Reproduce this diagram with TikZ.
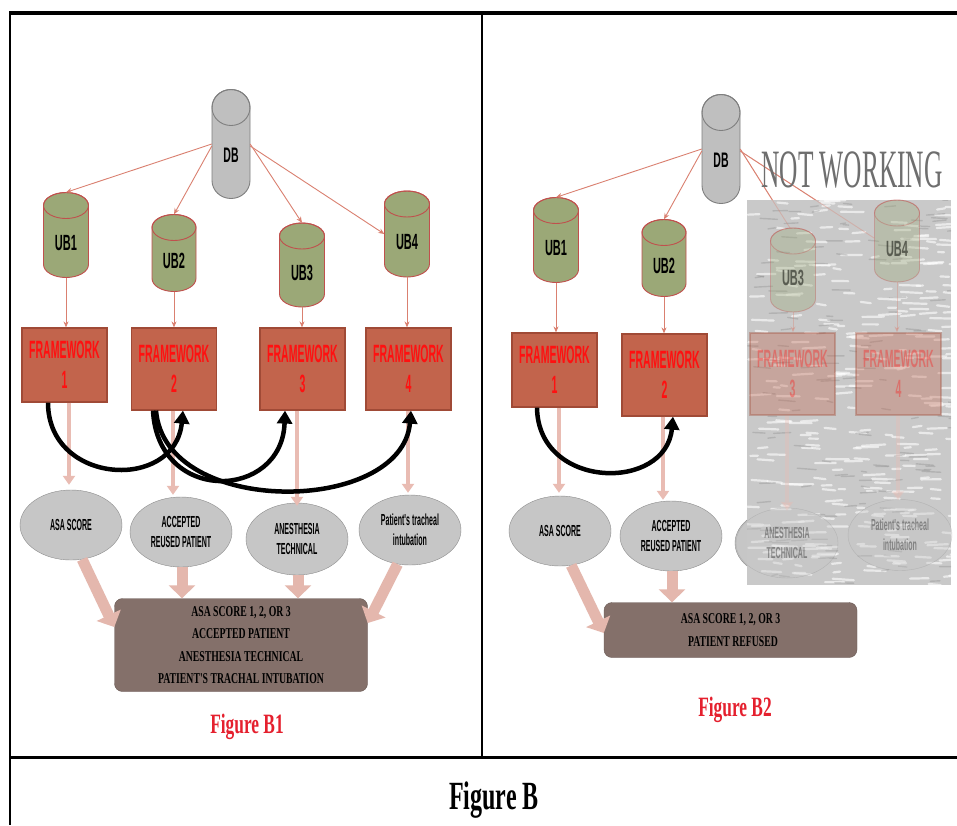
\documentclass[tikz,border=0pt]{standalone}
\usepackage{fontspec}
\usetikzlibrary{shapes.geometric,arrows.meta}
\newfontfamily\ubfont[FakeStretch=0.5]{Liberation Sans}
\newfontfamily\fwfont[FakeStretch=0.42]{Liberation Sans}
\newfontfamily\elfont[FakeStretch=0.44]{Liberation Sans}
\newfontfamily\bxfont[FakeStretch=0.65]{Liberation Serif}
\newfontfamily\fgfont[FakeStretch=0.62]{Liberation Serif}
\newfontfamily\bigfont[FakeStretch=0.6]{Liberation Serif}
\newfontfamily\nwserif[FakeStretch=0.47]{Liberation Serif}
\definecolor{dbFill}{HTML}{BFBFBF}
\definecolor{dbDraw}{HTML}{7F7F7F}
\definecolor{ubFill}{HTML}{9BA877}
\definecolor{ubDraw}{HTML}{C0504D}
\definecolor{fwFill}{HTML}{C2644C}
\definecolor{fwDraw}{HTML}{A04A36}
\definecolor{fwText}{HTML}{FF1010}
\definecolor{ellFill}{HTML}{C6C6C6}
\definecolor{ellDraw}{HTML}{8C8C8C}
\definecolor{boxFill}{HTML}{84706A}
\definecolor{lineC}{HTML}{DA8070}
\definecolor{pinkC}{HTML}{E9BCB3}
\definecolor{fatC}{HTML}{E4B7AD}
\definecolor{figRed}{HTML}{E5202E}
\definecolor{notC}{HTML}{6E6E6E}
\definecolor{texC}{HTML}{C9C9C9}
% cylinder: #1 name, #2 cx, #3 cy, #4 width, #5 height, #6 cap y-radius, #7 node style, #8 label
\newcommand\drawcyl[8]{%
  \pgfmathsetmacro\cylhw{#4/2}%
  \pgfmathsetmacro\cyltop{#3-#5/2+#6}%
  \pgfmathsetmacro\cylbot{#3+#5/2-#6}%
  \node[#7, minimum width=#4pt, minimum height=#5pt] (#1) at (#2,#3) {#8};
  \path[#7 body] (#2-\cylhw,\cyltop) -- (#2-\cylhw,\cylbot)
     arc[start angle=180, end angle=360, x radius=\cylhw pt, y radius=#6pt]
     -- (#2+\cylhw,\cyltop)
     arc[start angle=0, end angle=180, x radius=\cylhw pt, y radius=#6pt] -- cycle;
  \draw[#7 body, fill=none] (#2,\cyltop) ellipse[x radius=\cylhw pt, y radius=#6pt];
  \node[#7, minimum width=#4pt, minimum height=#5pt] at (#1.center) {#8};
}
\begin{document}
\begin{tikzpicture}[x=1pt,y=-1pt,
  dbnode/.style={rectangle, inner sep=0pt, text height=37pt, text depth=0pt,
    font=\ubfont\bfseries\fontsize{21}{21}\selectfont},
  dbnode body/.style={draw=dbDraw, fill=dbFill, line width=0.9pt},
  ubnode/.style={rectangle, inner sep=0pt, text height=30pt, text depth=0pt,
    font=\ubfont\bfseries\fontsize{22}{22}\selectfont},
  ubnode body/.style={draw=ubDraw, fill=ubFill, line width=0.9pt},
  fwnode/.style={rectangle, draw=fwDraw, line width=1.2pt, fill=fwFill, minimum width=85pt,
    inner sep=0pt, text=fwText, align=center, font=\fwfont\bfseries\fontsize{25}{30}\selectfont},
  ellnode/.style={ellipse, draw=ellDraw, fill=ellFill, inner sep=0pt, minimum width=102pt,
    minimum height=70pt, align=center, font=\elfont\bfseries\fontsize{16}{20}\selectfont},
  resnode/.style={rectangle, rounded corners=8pt, fill=boxFill, draw=boxFill!80!black,
    minimum width=253pt, align=center, inner sep=0pt,
    font=\bxfont\bfseries\fontsize{15}{22.5}\selectfont},
  thinarrow/.style={draw=lineC, line width=0.9pt, -{Stealth[length=6pt,width=5pt]}},
  pinkarrow/.style={draw=pinkC, line width=4pt, -{Triangle[length=9pt,width=12pt]}},
  fatarrow/.style={draw=fatC, line width=11pt, -{Triangle[length=13pt,width=26pt]}},
  curvearrow/.style={draw=black, line width=4.5pt, -{Triangle[length=13pt,width=15pt]}},
  figlabel/.style={text=figRed, font=\fgfont\bfseries\fontsize{28}{28}\selectfont},
  faded/.style={opacity=0.35}
]
\useasboundingbox (0,0) rectangle (957,825);
\fill[white] (0,0) rectangle (957,825);

% frame
\draw[line width=4pt] (9,13) -- (957,13);
\draw[line width=2pt] (10,12) -- (10,825);
\draw[line width=1.5pt] (482,13) -- (482,757);
\draw[line width=3pt] (9,757) -- (957,757);

% ================= LEFT PANEL =================
\drawcyl{dbL}{231}{144}{38}{109}{18}{dbnode}{DB}
\drawcyl{ub1L}{66}{235}{45}{85}{13}{ubnode}{UB1}
\drawcyl{ub2L}{174}{253}{44}{77}{13}{ubnode}{UB2}
\drawcyl{ub3L}{302}{265}{45}{84}{13}{ubnode}{UB3}
\drawcyl{ub4L}{407}{234}{45}{86}{13}{ubnode}{UB4}

\draw[thinarrow] (dbL.west) -- (ub1L.north);
\draw[thinarrow] (dbL.186) -- (ub2L.north);
\draw[thinarrow] (dbL.east) -- (ub3L.north);
\draw[thinarrow] (dbL.354) -- (ub4L.west);

\node[fwnode, minimum height=74pt] (fw1L) at (64.5,365) {FRAMEWORK\\1};
\node[fwnode, minimum height=82pt] (fw2L) at (174,369) {FRAMEWORK\\2};
\node[fwnode, minimum height=82pt] (fw3L) at (302.5,369) {FRAMEWORK\\3};
\node[fwnode, minimum height=82pt] (fw4L) at (408.5,369) {FRAMEWORK\\4};

\draw[thinarrow] (ub1L.south) -- (ub1L.south |- fw1L.north);
\draw[thinarrow] (ub2L.south) -- (ub2L.south |- fw2L.north);
\draw[thinarrow] (ub3L.south) -- (ub3L.south |- fw3L.north);
\draw[thinarrow] (ub4L.south) -- (ub4L.south |- fw4L.north);

\node[ellnode] (e1L) at (71,525) {ASA SCORE};
\node[ellnode] (e2L) at (181,532) {ACCEPTED\\REUSED PATIENT};
\node[ellnode, minimum height=72pt] (e3L) at (297,539) {ANESTHESIA\\TECHNICAL};
\node[ellnode] (e4L) at (410,530) {Patient's tracheal\\intubation};

\draw[pinkarrow] ([xshift=4.5pt]fw1L.south) -- ([xshift=4.5pt,yshift=5pt]fw1L.south |- e1L.north);
\draw[pinkarrow] ([xshift=-1pt]fw2L.south) -- ([xshift=-1pt,yshift=2pt]fw2L.south |- e2L.north);
\draw[pinkarrow] ([xshift=-5.5pt]fw3L.south) -- ([xshift=-5.5pt,yshift=-3pt]fw3L.south |- e3L.north);
\draw[pinkarrow] ([xshift=-0.5pt]fw4L.south) -- ([xshift=-0.5pt,yshift=2pt]fw4L.south |- e4L.north);

% curved black arrows
\draw[curvearrow] ([xshift=-16.5pt]fw1L.south) .. controls (48,485) and (175,492) .. ([xshift=9pt]fw2L.south);
\draw[curvearrow] ([xshift=-21pt]fw2L.south) .. controls (158,505) and (282,500) .. ([xshift=-17.5pt]fw3L.south);
\draw[curvearrow] ([xshift=-18pt]fw2L.south) .. controls (165,518) and (402,515) .. ([xshift=2.5pt]fw4L.south);

\node[resnode, minimum height=93pt] (boxL) at (241,645)
  {ASA SCORE 1, 2, OR 3\\ACCEPTED PATIENT\\ANESTHESIA TECHNICAL\\PATIENT'S TRACHAL INTUBATION};

\draw[fatarrow] (e1L.-72) -- ([yshift=18pt]boxL.west);
\draw[fatarrow] ([xshift=1pt]e2L.south) -- ([xshift=-59pt]boxL.north);
\draw[fatarrow] ([xshift=1pt]e3L.south) -- ([xshift=57pt]boxL.north);
\draw[fatarrow] (e4L.-110) -- ([yshift=22pt]boxL.east);

\node[figlabel] (figB1) at (247,727) {Figure B1};

% ================= RIGHT PANEL =================
\drawcyl{dbR}{721}{149}{38}{109}{18}{dbnode}{DB}
\drawcyl{ub1R}{556}{240}{45}{85}{13}{ubnode}{UB1}
\drawcyl{ub2R}{664}{258}{44}{77}{13}{ubnode}{UB2}

\draw[thinarrow] (dbR.west) -- (ub1R.north);
\draw[thinarrow] (dbR.186) -- (ub2R.north);

\node[fwnode, minimum height=74pt] (fw1R) at (554.5,370) {FRAMEWORK\\1};
\node[fwnode, minimum height=82pt] (fw2R) at (664.5,375) {FRAMEWORK\\2};

\draw[thinarrow] (ub1R.south) -- (ub1R.south |- fw1R.north);
\draw[thinarrow] (ub2R.south) -- (ub2R.south |- fw2R.north);

\node[ellnode] (e1R) at (560,531) {ASA SCORE};
\node[ellnode] (e2R) at (671,536) {ACCEPTED\\REUSED PATIENT};

\draw[pinkarrow] ([xshift=4.5pt]fw1R.south) -- ([xshift=4.5pt,yshift=3pt]fw1R.south |- e1R.north);
\draw[pinkarrow] ([xshift=-1.5pt]fw2R.south) -- ([xshift=-1.5pt,yshift=1pt]fw2R.south |- e2R.north);

\draw[curvearrow] ([xshift=-17.5pt]fw1R.south) .. controls (538,490) and (666,492) .. ([xshift=8.5pt]fw2R.south);

% hidden (not working) part: ellipse piece visible at the left edge of the patch
\node[ellnode, minimum width=104pt, minimum height=72pt] (e3Rb) at (787,543) {};

% links from DB to the faded bases
\coordinate (ub3Rt) at (790,228);
\coordinate (ub4Rl) at (874,238);
\draw[draw=lineC, line width=0.9pt] (dbR.east) -- (ub3Rt);
\draw[draw=lineC, line width=0.9pt] (dbR.354) -- (ub4Rl);

% textured patch
\fill[texC] (747,200) rectangle (951,585);
\begin{scope}
\clip (747,200) rectangle (951,585);
\pgfmathsetseed{4711}
\foreach \i in {1,...,300}{
  \pgfmathsetmacro{\px}{747+rnd*204}
  \pgfmathsetmacro{\py}{200+rnd*385}
  \pgfmathsetmacro{\pl}{6+rnd*18}
  \draw[white, opacity=0.6, line width=2.2pt, line cap=round] (\px,\py) -- ++(\pl,rnd*3-1.5);
}
\foreach \i in {1,...,140}{
  \pgfmathsetmacro{\px}{747+rnd*204}
  \pgfmathsetmacro{\py}{200+rnd*385}
  \pgfmathsetmacro{\pl}{5+rnd*14}
  \draw[gray, opacity=0.3, line width=1.4pt, line cap=round] (\px,\py) -- ++(\pl,rnd*3-1.5);
}
\end{scope}

% faded content of the patch
\begin{scope}[faded]
\draw[draw=lineC, line width=0.9pt] (dbR.east) -- (ub3Rt);
\draw[draw=lineC, line width=0.9pt] (dbR.354) -- (ub4Rl);
\drawcyl{ub3R}{793}{270}{45}{84}{13}{ubnode}{UB3}
\drawcyl{ub4R}{897}{241}{45}{82}{13}{ubnode}{UB4}
\node[fwnode, minimum height=82pt] (fw3R) at (792.5,374) {FRAMEWORK\\3};
\node[fwnode, minimum height=82pt] (fw4R) at (898.5,374) {FRAMEWORK\\4};
\draw[thinarrow] (ub3R.south) -- (ub3R.south |- fw3R.north);
\draw[thinarrow] (ub4R.south) -- (ub4R.south |- fw4R.north);
\node[ellnode, minimum width=102pt, minimum height=70pt] (e3R) at (787,543) {ANESTHESIA\\TECHNICAL};
\node[ellnode, minimum width=104pt, minimum height=71pt] (e4R) at (900,535) {Patient's tracheal\\intubation};
\draw[pinkarrow] ([xshift=-5.5pt]fw3R.south) -- ([xshift=-5.5pt,yshift=-3pt]fw3R.south |- e3R.north);
\draw[pinkarrow] ([xshift=-0.5pt]fw4R.south) -- ([xshift=-0.5pt,yshift=-1pt]fw4R.south |- e4R.north);
\end{scope}

\node[text=notC, font=\nwserif\fontsize{54}{54}\selectfont] (notw) at (852,170) {NOT WORKING};

\node[resnode, minimum height=55pt] (boxR) at (730.5,630)
  {ASA SCORE 1, 2, OR 3\\\ \ PATIENT REFUSED};

\draw[fatarrow] (e1R.-72) -- ([yshift=-3pt]boxR.west);
\draw[fatarrow] ([xshift=1pt]e2R.south) -- ([xshift=-58.5pt]boxR.north);

\node[figlabel] (figB2) at (735,710) {Figure B2};

% overall caption
\node[font=\bigfont\bfseries\fontsize{40}{40}\selectfont] (figB) at (494,800) {Figure B};
\end{tikzpicture}
\end{document}
